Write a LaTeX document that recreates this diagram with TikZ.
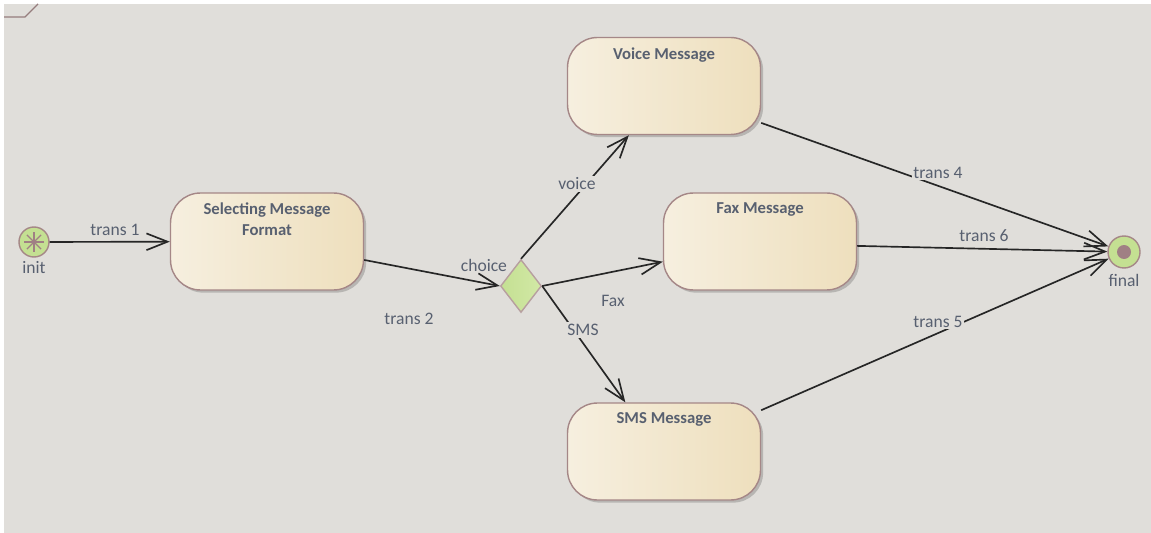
\documentclass[tikz,border=0pt]{standalone}
\usepackage{fontspec}
\setmainfont{Carlito}
\usetikzlibrary{shapes.geometric, arrows.meta, positioning, shadows}
\definecolor{canvas}{RGB}{224,222,218}
\definecolor{framebrown}{RGB}{150,125,125}
\definecolor{stateleft}{RGB}{246,239,223}
\definecolor{stateright}{RGB}{238,223,189}
\definecolor{stateborder}{RGB}{165,135,135}
\definecolor{pseudogreen}{RGB}{196,224,146}
\definecolor{pseudolight}{RGB}{210,232,166}
\definecolor{labeltext}{RGB}{88,96,112}
\definecolor{dotbrown}{RGB}{160,128,132}

\begin{document}
\begin{tikzpicture}[
  x=0.02cm, y=-0.02cm,
  state/.style={
    rectangle, rounded corners=0.6cm,
    minimum width=3.86cm, minimum height=1.94cm,
    draw=stateborder, line width=0.8pt,
    left color=stateleft, right color=stateright,
    drop shadow={shadow xshift=1.5pt, shadow yshift=-1.5pt, opacity=0.18, fill=black}
  },
  title/.style={
    font=\fontsize{9.5}{12}\selectfont\bfseries, text=labeltext,
    align=center, anchor=north, yshift=-2.5pt
  },
  lbl/.style={font=\fontsize{10}{12}\selectfont, text=labeltext, inner sep=1pt},
  cut/.style={fill=canvas},
  pseudo/.style={circle, draw=stateborder, line width=0.8pt, fill=pseudogreen, inner sep=0pt},
  choicebox/.style={
    diamond, minimum width=0.82cm, minimum height=1.06cm, inner sep=0pt,
    draw=stateborder!80, line width=0.8pt,
    left color=pseudogreen, right color=pseudolight
  },
  trans/.style={-{Straight Barb[length=12pt, width=9.5pt]}, line width=0.95pt, draw=black!85}
]

% canvas and frame corner
\fill[white] (0,0) rectangle (1151,533);
\fill[canvas] (4,4) rectangle (1151,533);
\draw[framebrown, line width=0.8pt] (4,17) -- (25,17) -- (38,4);
\useasboundingbox (0,0) rectangle (1151,533);

% pseudo states
\node[pseudo, minimum size=0.6cm, label={[lbl, label distance=1pt]below:init},
  path picture={
    \foreach \a in {0,45,90,135}
      \draw[dotbrown, line width=0.7pt]
        ([shift={(\a:0.2cm)}]path picture bounding box.center) --
        ([shift={(\a+180:0.2cm)}]path picture bounding box.center);
  }] (init) at (34,242) {};
\node[pseudo, minimum size=0.64cm, label={[lbl, label distance=2pt]below:final},
  path picture={
    \fill[dotbrown] (path picture bounding box.center) circle (0.14cm);
  }] (final) at (1124,252) {};
\node[choicebox, label={[lbl]above left:choice}] (choice) at (521,286) {};

% states
\node[state, label={[title]north:Selecting Message\\Format}] (select) at (267,241.5) {};
\node[state, label={[title]north:Voice Message}] (voice) at (664,86) {};
\node[state, label={[title]north:Fax Message}] (fax) at (760,241.5) {};
\node[state, label={[title]north:SMS Message}] (sms) at (664,451.5) {};

% transitions
\draw[trans] (init) -- (select);
\draw[trans] ([yshift=-10.5pt]select.east) -- (choice.west);
\draw[trans] (choice.north) -- ([xshift=-20pt]voice.south);
\draw[trans] (choice.east) -- ([yshift=-11.5pt]fax.west);
\draw[trans] (choice.east) -- ([xshift=-22pt]sms.north);
\draw[trans] ([yshift=-21pt]voice.east) -- (final);
\draw[trans] ([yshift=-2.5pt]fax.east) -- (final);
\draw[trans] ([yshift=23.5pt]sms.east) -- (final);

% transition labels
\node[lbl] (ltrans1) at (115,230) {trans 1};
\node[lbl] (ltrans2) at (409,319) {trans 2};
\node[lbl, cut] (lvoice) at (577,184) {voice};
\node[lbl] (lfax) at (613,301) {Fax};
\node[lbl, cut] (lsms) at (583,330) {SMS};
\node[lbl, cut] (ltrans4) at (938,173) {trans 4};
\node[lbl] (ltrans6) at (984,236) {trans 6};
\node[lbl, cut] (ltrans5) at (938,322) {trans 5};

\end{tikzpicture}
\end{document}
